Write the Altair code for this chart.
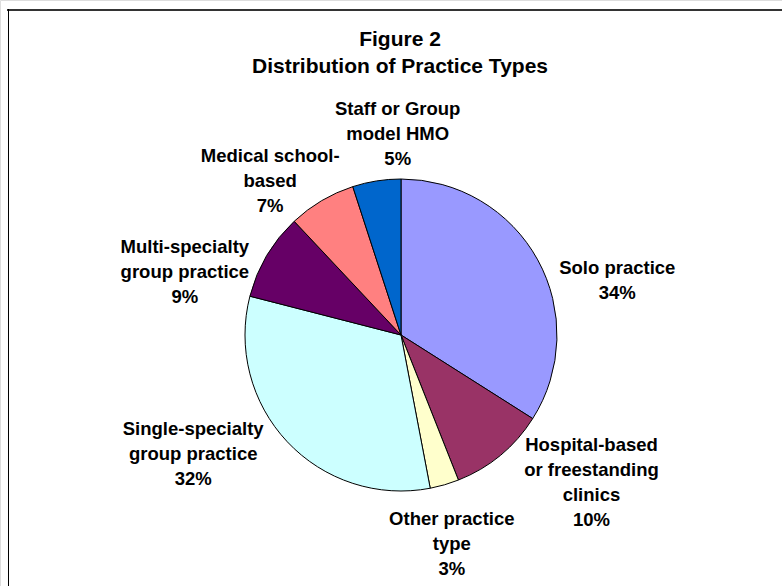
import altair as alt
import pandas as pd

# Practice types, clockwise from 12 o'clock
categories = [
    "Solo practice",
    "Hospital-based or freestanding clinics",
    "Other practice type",
    "Single-specialty group practice",
    "Multi-specialty group practice",
    "Medical school-based",
    "Staff or Group model HMO",
]
shares = [34, 10, 3, 32, 9, 7, 5]
label_lines = [
    "Solo practice",
    "Hospital-based\nor freestanding\nclinics",
    "Other practice\ntype",
    "Single-specialty\ngroup practice",
    "Multi-specialty\ngroup practice",
    "Medical school-\nbased",
    "Staff or Group\nmodel HMO",
]
colors = ["#9999FF", "#993366", "#FFFFCC", "#CCFFFF", "#660066", "#FF8080", "#0066CC"]
title_lines = ["Figure 2", "Distribution of Practice Types"]

df = pd.DataFrame({
    "idx": list(range(len(categories))),
    "category": categories,
    "value": shares,
    "label": [f"{l}\n{v}%" for l, v in zip(label_lines, shares)],
})

FONT = "Arial, Liberation Sans, sans-serif"
CX, CY, R = 401, 335, 156
LABEL_R = 200
LINE_H = 25
# label nudges (pixels) from the point at the slice mid-angle
label_nudge = [(41, 42), (63, -7), (-5, 17), (-62, -18), (-44, 39), (-29, 18), (28, -3)]

theta_scale = alt.Scale(domain=[0, 100])

pie = alt.Chart(df).mark_arc(radius=R, stroke="black", strokeWidth=1).encode(
    theta=alt.Theta("value:Q", stack=True, scale=theta_scale),
    order=alt.Order("idx:Q"),
    color=alt.Color("category:N", scale=alt.Scale(domain=categories, range=colors), legend=None),
    x=alt.value(CX),
    y=alt.value(CY),
)

lbl_base = alt.Chart(df).transform_window(
    cum="sum(value)", sort=[alt.SortField("idx")], frame=[None, 0]
).transform_calculate(mid="datum.cum - datum.value / 2")

labels = []
for i, (dx, dy) in enumerate(label_nudge):
    n_lines = df["label"][i].count("\n") + 1
    # centre the multi-line block vertically on its anchor
    dy_block = dy - (n_lines - 1) * LINE_H / 2
    labels.append(
        lbl_base.transform_filter(alt.datum.idx == i)
        .mark_text(radius=LABEL_R, dx=dx, dy=dy_block, font=FONT, fontSize=18.5, fontWeight="bold",
                   lineBreak="\n", lineHeight=LINE_H, align="center", baseline="middle", color="black")
        .encode(
            theta=alt.Theta("mid:Q", stack=False, scale=theta_scale),
            text="label:N",
            x=alt.value(CX),
            y=alt.value(CY),
        )
    )

title = alt.Chart(alt.Data(values=[{"t": "\n".join(title_lines)}])).mark_text(
    font=FONT, fontSize=21, fontWeight="bold", lineBreak="\n", lineHeight=27,
    align="center", baseline="middle", color="black",
).encode(text="t:N", x=alt.value(400), y=alt.value(40))

frame_data = alt.Data(values=[{"a": 1}])
top_edge = alt.Chart(frame_data).mark_rule(color="#333333", strokeWidth=2).encode(
    x=alt.value(7), x2=alt.value(782), y=alt.value(10)
)
left_edge = alt.Chart(frame_data).mark_rule(color="black", strokeWidth=1).encode(
    x=alt.value(8.5), y=alt.value(9), y2=alt.value(586)
)

chart = alt.layer(top_edge, left_edge, pie, title, *labels).properties(
    width=782,
    height=586,
    padding=0,
    autosize=alt.AutoSizeParams(type="none"),
).configure_view(stroke=None).configure(background="white")

chart.save("out.html", embed_options={"renderer": "svg", "actions": False})
